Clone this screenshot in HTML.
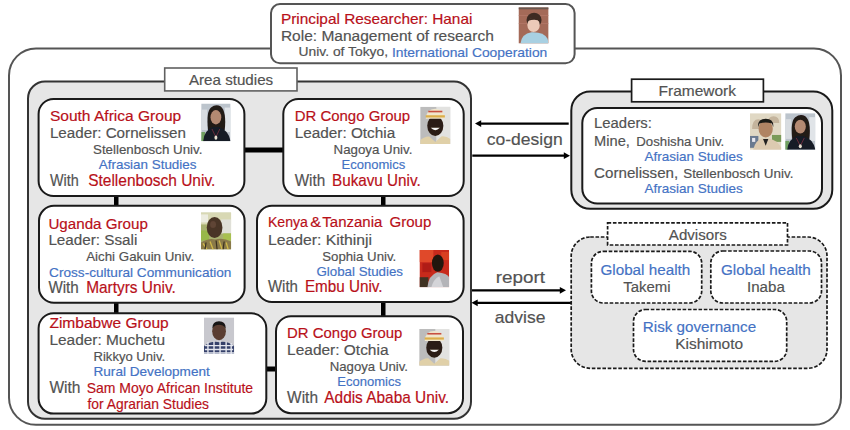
<!DOCTYPE html>
<html><head><meta charset="utf-8"><style>
html,body{margin:0;padding:0;background:#fff;width:850px;height:430px;overflow:hidden}
svg text{font-family:"Liberation Sans",sans-serif}
</style></head><body>
<svg width="850" height="430" viewBox="0 0 850 430" style="display:block">
<defs><filter id="b" x="-10%" y="-10%" width="120%" height="120%"><feGaussianBlur stdDeviation="0.6"/></filter></defs>
<rect x="9" y="48.5" width="832.00" height="376.30" rx="27" fill="#fff" stroke="#555555" stroke-width="2"/>
<rect x="271" y="4.1" width="303.60" height="59.20" rx="9" fill="#fff" stroke="#555555" stroke-width="2"/>
<text x="280.9" y="23.5" font-size="14.6" fill="#b81019" stroke="#b81019" stroke-width="0.18" textLength="191.50" lengthAdjust="spacingAndGlyphs">Principal Researcher: Hanai</text>
<text x="280.9" y="41.2" font-size="15.3" fill="#525252" stroke="#525252" stroke-width="0.18" textLength="212.90" lengthAdjust="spacingAndGlyphs">Role: Management of research</text>
<text x="298.6" y="56.4" font-size="13.2" fill="#525252" stroke="#525252" stroke-width="0.18" textLength="89.40" lengthAdjust="spacingAndGlyphs">Univ. of Tokyo,</text>
<text x="392" y="56.9" font-size="13.6" fill="#4472c4" stroke="#4472c4" stroke-width="0.18" textLength="155.30" lengthAdjust="spacingAndGlyphs">International Cooperation</text>
<rect x="28" y="81.5" width="443.00" height="337.30" rx="17" fill="#e6e6e6" stroke="#333" stroke-width="2"/>
<rect x="164.7" y="68" width="132.30" height="22.90" rx="0" fill="#fff" stroke="#606060" stroke-width="1.6"/>
<text x="188.9" y="84.7" font-size="15" fill="#525252" stroke="#525252" stroke-width="0.18" textLength="84.30" lengthAdjust="spacingAndGlyphs">Area studies</text>
<rect x="244" y="147.5" width="40" height="5.0" fill="#000"/>
<rect x="114" y="195" width="4.5" height="12" fill="#000"/>
<rect x="114" y="302" width="4.5" height="12" fill="#000"/>
<rect x="381" y="195" width="4.5" height="12" fill="#000"/>
<rect x="381" y="301" width="4.5" height="16" fill="#000"/>
<rect x="265" y="366.5" width="12" height="5.0" fill="#000"/>
<rect x="38.6" y="99" width="205.80" height="97.00" rx="15" fill="#fff" stroke="#1a1a1a" stroke-width="2"/>
<rect x="283.3" y="99" width="180.40" height="97.00" rx="15" fill="#fff" stroke="#1a1a1a" stroke-width="2"/>
<rect x="39" y="205.8" width="205.60" height="97.00" rx="15" fill="#fff" stroke="#1a1a1a" stroke-width="2"/>
<rect x="257" y="205.8" width="206.60" height="96.20" rx="15" fill="#fff" stroke="#1a1a1a" stroke-width="2"/>
<rect x="38.6" y="313.2" width="227.70" height="100.40" rx="15" fill="#fff" stroke="#1a1a1a" stroke-width="2"/>
<rect x="276" y="316.2" width="187.00" height="97.00" rx="15" fill="#fff" stroke="#1a1a1a" stroke-width="2"/>
<text x="49.9" y="121.2" font-size="15.4" fill="#b81019" stroke="#b81019" stroke-width="0.18" textLength="131.30" lengthAdjust="spacingAndGlyphs">South Africa Group</text>
<text x="49.9" y="138.4" font-size="15.3" fill="#525252" stroke="#525252" stroke-width="0.18" textLength="136.00" lengthAdjust="spacingAndGlyphs">Leader: Cornelissen</text>
<text x="93" y="154.1" font-size="13.2" fill="#525252" stroke="#525252" stroke-width="0.18" textLength="109.40" lengthAdjust="spacingAndGlyphs">Stellenbosch Univ.</text>
<text x="98.8" y="169.2" font-size="13.6" fill="#4472c4" stroke="#4472c4" stroke-width="0.18" textLength="97.70" lengthAdjust="spacingAndGlyphs">Afrasian Studies</text>
<text x="50" y="185.7" font-size="15.9" fill="#525252" stroke="#525252" stroke-width="0.18" textLength="28.80" lengthAdjust="spacingAndGlyphs">With</text>
<text x="88.2" y="185.7" font-size="15.9" fill="#b81019" stroke="#b81019" stroke-width="0.18" textLength="127.10" lengthAdjust="spacingAndGlyphs">Stellenbosch Univ.</text>
<text x="294.7" y="121.2" font-size="15.4" fill="#b81019" stroke="#b81019" stroke-width="0.18" textLength="115.50" lengthAdjust="spacingAndGlyphs">DR Congo Group</text>
<text x="294.7" y="138" font-size="15.3" fill="#525252" stroke="#525252" stroke-width="0.18" textLength="100.50" lengthAdjust="spacingAndGlyphs">Leader: Otchia</text>
<text x="333.6" y="154.1" font-size="13.2" fill="#525252" stroke="#525252" stroke-width="0.18" textLength="78.80" lengthAdjust="spacingAndGlyphs">Nagoya Univ.</text>
<text x="341.6" y="168.8" font-size="13.6" fill="#4472c4" stroke="#4472c4" stroke-width="0.18" textLength="63.70" lengthAdjust="spacingAndGlyphs">Economics</text>
<text x="294.7" y="185.6" font-size="15.9" fill="#525252" stroke="#525252" stroke-width="0.18" textLength="30.60" lengthAdjust="spacingAndGlyphs">With</text>
<text x="332" y="185.6" font-size="15.9" fill="#b81019" stroke="#b81019" stroke-width="0.18" textLength="88.70" lengthAdjust="spacingAndGlyphs">Bukavu Univ.</text>
<text x="48.4" y="228.5" font-size="15.4" fill="#b81019" stroke="#b81019" stroke-width="0.18" textLength="99.50" lengthAdjust="spacingAndGlyphs">Uganda Group</text>
<text x="48.4" y="245" font-size="15.3" fill="#525252" stroke="#525252" stroke-width="0.18" textLength="88.90" lengthAdjust="spacingAndGlyphs">Leader: Ssali</text>
<text x="86.2" y="261.3" font-size="13.2" fill="#525252" stroke="#525252" stroke-width="0.18" textLength="107.90" lengthAdjust="spacingAndGlyphs">Aichi Gakuin Univ.</text>
<text x="49.1" y="276.6" font-size="13.6" fill="#4472c4" stroke="#4472c4" stroke-width="0.18" textLength="182.30" lengthAdjust="spacingAndGlyphs">Cross-cultural Communication</text>
<text x="48.4" y="292.7" font-size="15.9" fill="#525252" stroke="#525252" stroke-width="0.18" textLength="30.40" lengthAdjust="spacingAndGlyphs">With</text>
<text x="86.2" y="292.7" font-size="15.9" fill="#b81019" stroke="#b81019" stroke-width="0.18" textLength="89.60" lengthAdjust="spacingAndGlyphs">Martyrs Univ.</text>
<text x="267.9" y="226.7" font-size="15.4" fill="#b81019" stroke="#b81019" stroke-width="0.18" textLength="40.00" lengthAdjust="spacingAndGlyphs">Kenya</text>
<text x="310.2" y="226.7" font-size="15.4" fill="#b81019" stroke="#b81019" stroke-width="0.18" textLength="10.80" lengthAdjust="spacingAndGlyphs">&amp;</text>
<text x="322.3" y="226.7" font-size="15.4" fill="#b81019" stroke="#b81019" stroke-width="0.18" textLength="60.00" lengthAdjust="spacingAndGlyphs">Tanzania</text>
<text x="389.5" y="226.7" font-size="15.4" fill="#b81019" stroke="#b81019" stroke-width="0.18" textLength="41.80" lengthAdjust="spacingAndGlyphs">Group</text>
<text x="267.9" y="244.5" font-size="15.3" fill="#525252" stroke="#525252" stroke-width="0.18" textLength="104.20" lengthAdjust="spacingAndGlyphs">Leader: Kithinji</text>
<text x="322.2" y="260.6" font-size="13.2" fill="#525252" stroke="#525252" stroke-width="0.18" textLength="74.10" lengthAdjust="spacingAndGlyphs">Sophia Univ.</text>
<text x="316.5" y="275.9" font-size="13.6" fill="#4472c4" stroke="#4472c4" stroke-width="0.18" textLength="86.50" lengthAdjust="spacingAndGlyphs">Global Studies</text>
<text x="267.9" y="292" font-size="15.9" fill="#525252" stroke="#525252" stroke-width="0.18" textLength="30.10" lengthAdjust="spacingAndGlyphs">With</text>
<text x="304.9" y="292" font-size="15.9" fill="#b81019" stroke="#b81019" stroke-width="0.18" textLength="77.60" lengthAdjust="spacingAndGlyphs">Embu Univ.</text>
<text x="49.4" y="327.7" font-size="15.4" fill="#b81019" stroke="#b81019" stroke-width="0.18" textLength="119.30" lengthAdjust="spacingAndGlyphs">Zimbabwe Group</text>
<text x="49.4" y="345" font-size="15.3" fill="#525252" stroke="#525252" stroke-width="0.18" textLength="115.80" lengthAdjust="spacingAndGlyphs">Leader: Muchetu</text>
<text x="93.5" y="360.7" font-size="13.2" fill="#525252" stroke="#525252" stroke-width="0.18" textLength="71.70" lengthAdjust="spacingAndGlyphs">Rikkyo Univ.</text>
<text x="93.5" y="376.1" font-size="13.6" fill="#4472c4" stroke="#4472c4" stroke-width="0.18" textLength="116.30" lengthAdjust="spacingAndGlyphs">Rural Development</text>
<text x="49.4" y="392.8" font-size="15.9" fill="#525252" stroke="#525252" stroke-width="0.18" textLength="31.10" lengthAdjust="spacingAndGlyphs">With</text>
<text x="86.7" y="392.8" font-size="15" fill="#b81019" stroke="#b81019" stroke-width="0.18" textLength="166.40" lengthAdjust="spacingAndGlyphs">Sam Moyo African Institute</text>
<text x="87.5" y="409.3" font-size="15" fill="#b81019" stroke="#b81019" stroke-width="0.18" textLength="121.50" lengthAdjust="spacingAndGlyphs">for Agrarian Studies</text>
<text x="287.1" y="338.3" font-size="15.4" fill="#b81019" stroke="#b81019" stroke-width="0.18" textLength="115.30" lengthAdjust="spacingAndGlyphs">DR Congo Group</text>
<text x="287.1" y="355" font-size="15.3" fill="#525252" stroke="#525252" stroke-width="0.18" textLength="101.40" lengthAdjust="spacingAndGlyphs">Leader: Otchia</text>
<text x="329.7" y="370.8" font-size="13.2" fill="#525252" stroke="#525252" stroke-width="0.18" textLength="78.30" lengthAdjust="spacingAndGlyphs">Nagoya Univ.</text>
<text x="337.3" y="385.7" font-size="13.6" fill="#4472c4" stroke="#4472c4" stroke-width="0.18" textLength="63.70" lengthAdjust="spacingAndGlyphs">Economics</text>
<text x="287.1" y="402.7" font-size="15.9" fill="#525252" stroke="#525252" stroke-width="0.18" textLength="30.90" lengthAdjust="spacingAndGlyphs">With</text>
<text x="324.3" y="402.7" font-size="15.9" fill="#b81019" stroke="#b81019" stroke-width="0.18" textLength="124.70" lengthAdjust="spacingAndGlyphs">Addis Ababa Univ.</text>
<line x1="480" y1="123.6" x2="568.7" y2="123.6" stroke="#000" stroke-width="2.2"/>
<polygon points="475,123.6 481.2,120.19999999999999 481.2,127.0" fill="#000"/>
<line x1="472.3" y1="155.7" x2="565" y2="155.7" stroke="#000" stroke-width="2.2"/>
<polygon points="570,155.7 563.8,152.29999999999998 563.8,159.1" fill="#000"/>
<text x="486.7" y="144.8" font-size="17" fill="#525252" stroke="#525252" stroke-width="0.18" textLength="76.00" lengthAdjust="spacingAndGlyphs">co-design</text>
<line x1="472" y1="290.3" x2="561" y2="290.3" stroke="#000" stroke-width="2.2"/>
<polygon points="566,290.3 559.8,286.90000000000003 559.8,293.7" fill="#000"/>
<line x1="476.5" y1="302.8" x2="571" y2="302.8" stroke="#000" stroke-width="2.2"/>
<polygon points="471.5,302.8 477.7,299.40000000000003 477.7,306.2" fill="#000"/>
<text x="495.7" y="282.9" font-size="17" fill="#525252" stroke="#525252" stroke-width="0.18" textLength="49.30" lengthAdjust="spacingAndGlyphs">report</text>
<text x="494.8" y="322.9" font-size="17" fill="#525252" stroke="#525252" stroke-width="0.18" textLength="50.60" lengthAdjust="spacingAndGlyphs">advise</text>
<rect x="571.3" y="91.4" width="261.00" height="117.40" rx="19" fill="#e6e6e6" stroke="#1a1a1a" stroke-width="2"/>
<rect x="631.6" y="79.2" width="131.80" height="22.60" rx="0" fill="#fff" stroke="#1a1a1a" stroke-width="1.7"/>
<rect x="582.3" y="108.1" width="239.70" height="95.40" rx="15" fill="#fff" stroke="#1a1a1a" stroke-width="2"/>
<text x="658.6" y="96.2" font-size="15" fill="#525252" stroke="#525252" stroke-width="0.18" textLength="77.40" lengthAdjust="spacingAndGlyphs">Framework</text>
<text x="594.1" y="128.4" font-size="15.3" fill="#525252" stroke="#525252" stroke-width="0.18" textLength="57.80" lengthAdjust="spacingAndGlyphs">Leaders:</text>
<text x="594.1" y="146" font-size="15.3" fill="#525252" stroke="#525252" stroke-width="0.18" textLength="35.80" lengthAdjust="spacingAndGlyphs">Mine,</text>
<text x="636.3" y="146" font-size="13.2" fill="#525252" stroke="#525252" stroke-width="0.18" textLength="87.90" lengthAdjust="spacingAndGlyphs">Doshisha Univ.</text>
<text x="644.5" y="161.1" font-size="13.6" fill="#4472c4" stroke="#4472c4" stroke-width="0.18" textLength="98.20" lengthAdjust="spacingAndGlyphs">Afrasian Studies</text>
<text x="594.1" y="178.2" font-size="15.3" fill="#525252" stroke="#525252" stroke-width="0.18" textLength="84.10" lengthAdjust="spacingAndGlyphs">Cornelissen,</text>
<text x="683.2" y="178.2" font-size="13.2" fill="#525252" stroke="#525252" stroke-width="0.18" textLength="110.20" lengthAdjust="spacingAndGlyphs">Stellenbosch Univ.</text>
<text x="644.5" y="193.4" font-size="13.6" fill="#4472c4" stroke="#4472c4" stroke-width="0.18" textLength="98.20" lengthAdjust="spacingAndGlyphs">Afrasian Studies</text>
<rect x="571.2" y="237" width="255.80" height="131.30" rx="19" fill="#e6e6e6" stroke="#1a1a1a" stroke-width="1.7" stroke-dasharray="3.6 1.7"/>
<rect x="607.6" y="222.8" width="179.90" height="22.20" rx="0" fill="#fff" stroke="#1a1a1a" stroke-width="1.7" stroke-dasharray="3.6 1.7"/>
<rect x="591.4" y="251.3" width="110.30" height="51.70" rx="12" fill="#fff" stroke="#1a1a1a" stroke-width="1.7" stroke-dasharray="3.6 1.7"/>
<rect x="710.8" y="251.0" width="110.70" height="52.00" rx="12" fill="#fff" stroke="#1a1a1a" stroke-width="1.7" stroke-dasharray="3.6 1.7"/>
<rect x="633.5" y="309.5" width="153.20" height="51.80" rx="12" fill="#fff" stroke="#1a1a1a" stroke-width="1.7" stroke-dasharray="3.6 1.7"/>
<text x="668.8" y="239.9" font-size="15" fill="#525252" stroke="#525252" stroke-width="0.18" textLength="58.00" lengthAdjust="spacingAndGlyphs">Advisors</text>
<text x="600.4" y="274.8" font-size="15.3" fill="#4472c4" stroke="#4472c4" stroke-width="0.18" textLength="89.90" lengthAdjust="spacingAndGlyphs">Global health</text>
<text x="623.2" y="292" font-size="15.3" fill="#525252" stroke="#525252" stroke-width="0.18" textLength="47.30" lengthAdjust="spacingAndGlyphs">Takemi</text>
<text x="721" y="274.8" font-size="15.3" fill="#4472c4" stroke="#4472c4" stroke-width="0.18" textLength="89.80" lengthAdjust="spacingAndGlyphs">Global health</text>
<text x="747" y="292" font-size="15.3" fill="#525252" stroke="#525252" stroke-width="0.18" textLength="37.80" lengthAdjust="spacingAndGlyphs">Inaba</text>
<text x="642.8" y="332.1" font-size="15.3" fill="#4472c4" stroke="#4472c4" stroke-width="0.18" textLength="113.30" lengthAdjust="spacingAndGlyphs">Risk governance</text>
<text x="675.3" y="349" font-size="15.3" fill="#525252" stroke="#525252" stroke-width="0.18" textLength="67.80" lengthAdjust="spacingAndGlyphs">Kishimoto</text>
<svg x="518.5" y="7.3" width="30.10" height="36.30" viewBox="0 0 30 37" preserveAspectRatio="none"><rect width="30" height="37" fill="#a46a58"/><g filter="url(#b)"><rect x="0" y="0" width="30" height="2" fill="#6a5850"/><rect x="0" y="8" width="30" height="0.8" fill="#b47868"/><rect x="0" y="16" width="30" height="0.8" fill="#b47868"/><ellipse cx="15.5" cy="13" rx="7.5" ry="7.5" fill="#3e2c24"/><ellipse cx="15" cy="18" rx="6.2" ry="7.2" fill="#eccab8"/><path d="M9 14 Q12 9 20 11 Q22 13 21.5 15 Q18 11 9 14Z" fill="#3e2c24"/><path d="M2 37 Q3 27 13 25.5 Q25 25 29 32 L30 37Z" fill="#a8d0e2"/></g></svg>
<svg x="201.2" y="103.5" width="29.40" height="37.70" viewBox="0 0 30 37" preserveAspectRatio="none"><rect width="30" height="37" fill="#bcc4cc"/><g filter="url(#b)"><rect x="0" y="6" width="6" height="20" fill="#d8dce0"/><rect x="24" y="4" width="6" height="24" fill="#e0e4e8"/><rect x="0" y="28" width="4" height="9" fill="#70a060"/><path d="M7 26 Q5 8 10 4 Q15 0 20 3 Q26 8 24 26Z" fill="#241a18"/><ellipse cx="15" cy="13.5" rx="5.5" ry="7" fill="#b48a72"/><path d="M2 37 Q3 26 12 23 L18 23 Q28 26 30 37Z" fill="#141c26"/><path d="M11 25 L15 33 L19 25" stroke="#803040" stroke-width="0.8" fill="none"/><ellipse cx="15" cy="33.5" rx="1.5" ry="2" fill="#e8e0d0"/></g></svg>
<svg x="420.2" y="106.7" width="30.20" height="37.30" viewBox="0 0 30 37" preserveAspectRatio="none"><rect width="30" height="37" fill="#bcbcbc"/><g filter="url(#b)"><rect x="16" y="0" width="14" height="37" fill="#e2e2e0"/><ellipse cx="15" cy="19" rx="8" ry="10" fill="#2c1c12"/><path d="M5.5 12 Q6 2 15 2 Q24 2 24.5 12Z" fill="#f0e6cc"/><rect x="5.5" y="8.5" width="19" height="2.2" fill="#dcae48"/><rect x="8" y="4" width="14" height="1.6" fill="#c85040"/><path d="M10.5 21 Q15 25.5 19.5 21Z" fill="#f4f4f4"/><path d="M0 37 L0 33 Q5 29 9 29.5 L15 35 L21 29.5 Q26 29 30 32 L30 37Z" fill="#e0d0a8"/></g></svg>
<svg x="201" y="212.4" width="30.20" height="37.10" viewBox="0 0 30 37" preserveAspectRatio="none"><rect width="30" height="37" fill="#a8b070"/><g filter="url(#b)"><rect x="0" y="0" width="30" height="12" fill="#d8d8b4"/><rect x="0" y="2" width="7" height="8" fill="#ecece0"/><rect x="20" y="7" width="10" height="14" fill="#e0e0d8"/><rect x="0" y="18" width="8" height="10" fill="#98b848"/><rect x="22" y="21" width="8" height="7" fill="#a8c050"/><ellipse cx="13.5" cy="15" rx="7.8" ry="10.5" fill="#4a3426"/><ellipse cx="12" cy="12" rx="3" ry="3.5" fill="#5e4434"/><path d="M0 37 L0 30 Q8 25 14 27 Q22 25 30 29 L30 37Z" fill="#8a7a48"/><path d="M2 31 L6 37 M9 29 L12 37 M18 28 L21 37 M25 30 L27 37" stroke="#d0b848" stroke-width="1.3"/><path d="M5 30 L4 37 M15 28 L16 37 M23 29 L22 37" stroke="#3a3020" stroke-width="1.2"/></g></svg>
<svg x="419.5" y="250" width="29.70" height="37.30" viewBox="0 0 30 37" preserveAspectRatio="none"><rect width="30" height="37" fill="#c82a1c"/><g filter="url(#b)"><rect x="0" y="0" width="14" height="12" fill="#e04a2a"/><rect x="3" y="13" width="9" height="9" fill="#b01c18"/><rect x="22" y="2" width="8" height="8" fill="#d84020"/><rect x="0" y="27" width="9" height="10" fill="#403020"/><ellipse cx="18.5" cy="13" rx="6" ry="8.5" fill="#24160e"/><path d="M8 37 Q9 25 18 22 Q28 23 30 27 L30 37Z" fill="#b4b4b8"/><path d="M12 37 Q14 29 20 26 L24 37Z" fill="#d4d4d8"/></g></svg>
<svg x="203.9" y="317.4" width="30.30" height="36.60" viewBox="0 0 30 37" preserveAspectRatio="none"><rect width="30" height="37" fill="#c8c8ce"/><g filter="url(#b)"><ellipse cx="15" cy="14" rx="6.8" ry="9" fill="#5a3e30"/><path d="M8.3 11 Q8.5 4 15 4 Q21.5 4 21.7 11 Q19 7.5 15 7.5 Q11 7.5 8.3 11Z" fill="#181212"/><path d="M0 37 L0 29 Q7 23.5 15 25 Q23 23.5 30 29 L30 37Z" fill="#34406a"/><path d="M1 28.5 L29 28.5 M1 32.5 L29 32.5 M0 36 L30 36 M4 25 L4 37 M10 24 L10 37 M16 24 L16 37 M22 24.5 L22 37 M27 26 L27 37" stroke="#e4e6ee" stroke-width="1.4"/></g></svg>
<svg x="419.2" y="329" width="30.20" height="36.70" viewBox="0 0 30 37" preserveAspectRatio="none"><rect width="30" height="37" fill="#bcbcbc"/><g filter="url(#b)"><rect x="16" y="0" width="14" height="37" fill="#e2e2e0"/><ellipse cx="15" cy="19" rx="8" ry="10" fill="#2c1c12"/><path d="M5.5 12 Q6 2 15 2 Q24 2 24.5 12Z" fill="#f0e6cc"/><rect x="5.5" y="8.5" width="19" height="2.2" fill="#dcae48"/><rect x="8" y="4" width="14" height="1.6" fill="#c85040"/><path d="M10.5 21 Q15 25.5 19.5 21Z" fill="#f4f4f4"/><path d="M0 37 L0 33 Q5 29 9 29.5 L15 35 L21 29.5 Q26 29 30 32 L30 37Z" fill="#e0d0a8"/></g></svg>
<svg x="750" y="113.2" width="31.40" height="36.60" viewBox="0 0 30 37" preserveAspectRatio="none"><rect width="30" height="37" fill="#e0d8c4"/><g filter="url(#b)"><path d="M2 16 Q2 6 8 6 Q13 6 13 16Z M17 10 Q17 3 22.5 3 Q28 3 28 10Z" fill="#c4b49c"/><ellipse cx="15" cy="16" rx="6.8" ry="8.5" fill="#b08464"/><path d="M7.8 14 Q7 5.5 15 5.5 Q23 5.5 22.2 14 L21 10.5 Q15 8.5 9 10.5Z" fill="#1e1a18"/><rect x="0" y="23" width="8" height="12" fill="#6a7a90"/><rect x="2" y="25" width="3" height="4" fill="#e8e8f0"/><rect x="21" y="22" width="9" height="7" fill="#7a9a58"/><path d="M3 37 Q5 27 12 25.5 L18 25.5 Q26 27 30 35 L30 37Z" fill="#dccab0"/><path d="M12.5 26 L15 33 L17.5 26Z" fill="#202020"/></g></svg>
<svg x="785.2" y="113.2" width="30.20" height="36.60" viewBox="0 0 30 37" preserveAspectRatio="none"><rect width="30" height="37" fill="#bcc4cc"/><g filter="url(#b)"><rect x="0" y="6" width="6" height="20" fill="#d8dce0"/><rect x="24" y="4" width="6" height="24" fill="#e0e4e8"/><rect x="0" y="28" width="4" height="9" fill="#70a060"/><path d="M7 26 Q5 8 10 4 Q15 0 20 3 Q26 8 24 26Z" fill="#241a18"/><ellipse cx="15" cy="13.5" rx="5.5" ry="7" fill="#b48a72"/><path d="M2 37 Q3 26 12 23 L18 23 Q28 26 30 37Z" fill="#141c26"/><path d="M11 25 L15 33 L19 25" stroke="#803040" stroke-width="0.8" fill="none"/><ellipse cx="15" cy="33.5" rx="1.5" ry="2" fill="#e8e0d0"/></g></svg>
</svg>
</body></html>
